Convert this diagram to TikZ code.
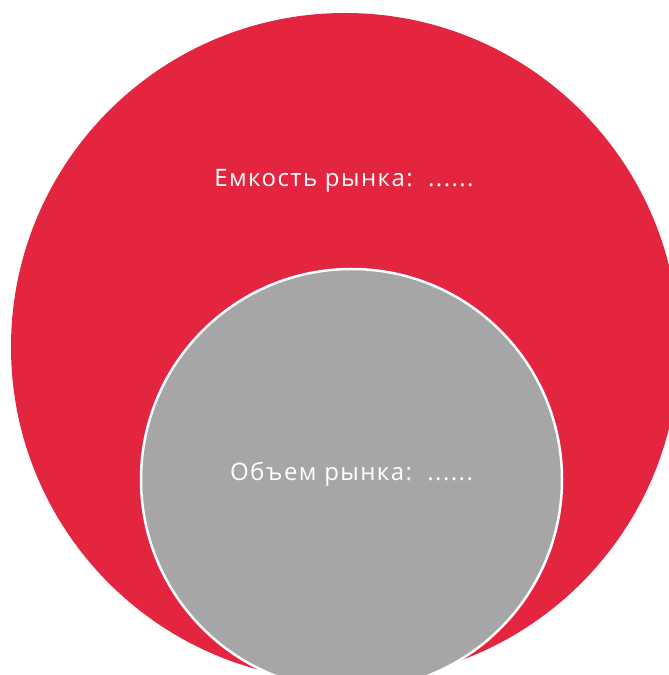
\documentclass[tikz,border=0pt]{standalone}
\usepackage{fontspec}
\setmainfont{Open Sans}[LetterSpace=6]
\definecolor{bigred}{HTML}{E4253F}
\definecolor{midgray}{HTML}{A6A6A6}
\tikzset{
  label text/.style={text=white, font=\fontsize{24}{28}\selectfont, anchor=base, inner sep=0pt}
}
\begin{document}
\begin{tikzpicture}[x=1pt,y=1pt]
\useasboundingbox (0,0) rectangle (669,675);
\clip (0,0) rectangle (669,675);
\fill[bigred] (345,328) circle[radius=334];
\node[label text] (capacity) at (344,488) {Емкость рынка:\ \ ......};
\filldraw[fill=midgray, draw=white, line width=2.5pt] (351.5,195.5) circle[radius=210.5];
\node[label text] (volume) at (351.5,194) {Объем рынка:\ \ ......};
\end{tikzpicture}
\end{document}
